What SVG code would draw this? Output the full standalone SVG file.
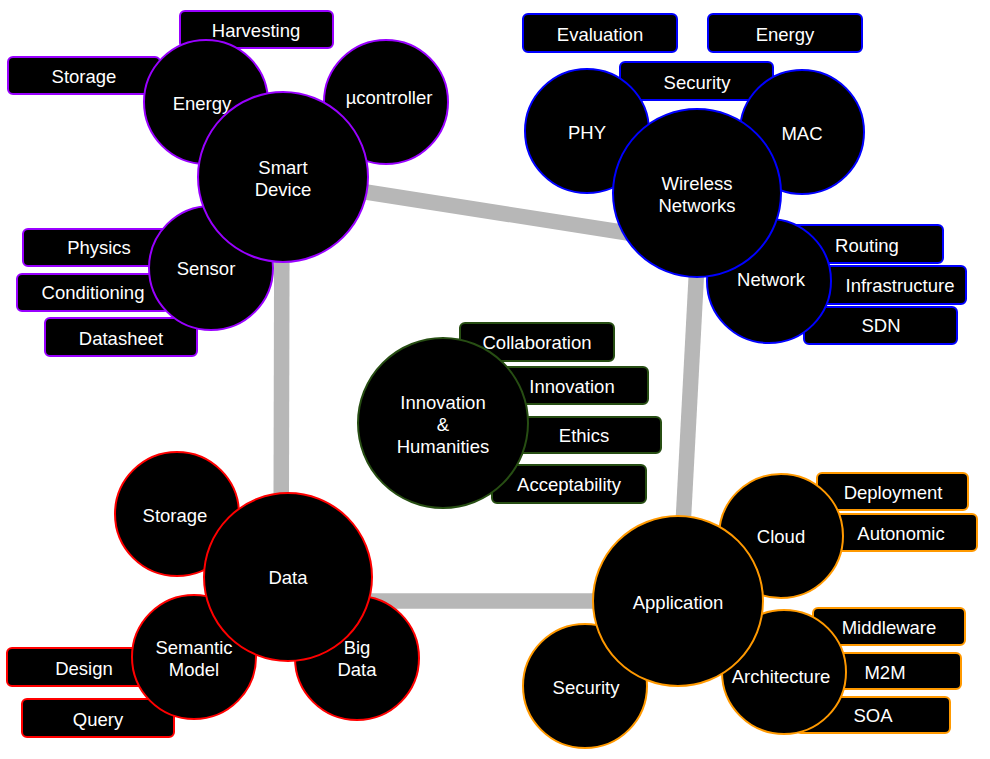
<svg xmlns="http://www.w3.org/2000/svg" width="990" height="759" viewBox="0 0 990 759">
<style>
text{font-family:"Liberation Sans",Arial,Helvetica,sans-serif;font-size:18.5px;fill:#fff;text-anchor:middle}
rect,circle{fill:#000;stroke-width:2}
.p{stroke:#9900ff}.b{stroke:#0000ff}.g{stroke:#274e13}.r{stroke:#ff0000}.o{stroke:#ff9900}
.conn line{stroke:#b7b7b7;stroke-width:15.5;fill:none}
</style>
<rect x="0" y="0" width="990" height="759" style="fill:#fff;stroke:none"/>
<g id="connectors" class="conn">
<line x1="283" y1="179" x2="698" y2="244"/>
<line x1="698" y1="244" x2="679" y2="601"/>
<line x1="679" y1="601" x2="281" y2="601"/>
<line x1="281" y1="601" x2="282" y2="179"/>
</g>
<!-- Smart Device cluster -->
<g id="harvesting"><rect class="p" x="180" y="11" width="153" height="37" rx="5"/><text x="256" y="37">Harvesting</text></g>
<g id="storage-box"><rect class="p" x="8" y="57" width="152" height="37" rx="5"/><text x="84" y="83">Storage</text></g>
<g id="physics"><rect class="p" x="23" y="229" width="152" height="37" rx="5"/><text x="99" y="254">Physics</text></g>
<g id="conditioning"><rect class="p" x="17" y="274" width="152" height="37" rx="5"/><text x="93" y="299">Conditioning</text></g>
<g id="datasheet"><rect class="p" x="45" y="318" width="152" height="38" rx="5"/><text x="121" y="345">Datasheet</text></g>
<g id="energy"><circle class="p" cx="206" cy="102" r="62"/><text x="202" y="110">Energy</text></g>
<g id="ucontroller"><circle class="p" cx="386" cy="102" r="62"/><text x="389" y="104">µcontroller</text></g>
<g id="sensor"><circle class="p" cx="211" cy="268" r="62"/><text x="206" y="275">Sensor</text></g>
<g id="smart-device"><circle class="p" cx="283" cy="177" r="85"/><text x="283" y="174">Smart</text><text x="283" y="196">Device</text></g>
<!-- Wireless cluster -->
<g id="evaluation"><rect class="b" x="523" y="14" width="154" height="38" rx="5"/><text x="600" y="41">Evaluation</text></g>
<g id="energy-box"><rect class="b" x="708" y="14" width="154" height="38" rx="5"/><text x="785" y="41">Energy</text></g>
<g id="security-box"><rect class="b" x="620" y="62" width="153" height="38" rx="5"/><text x="697" y="89">Security</text></g>
<g id="routing"><rect class="b" x="791" y="225" width="152" height="38" rx="5"/><text x="867" y="252">Routing</text></g>
<g id="infrastructure"><rect class="b" x="814" y="266" width="152" height="38" rx="5"/><text x="900" y="292">Infrastructure</text></g>
<g id="sdn"><rect class="b" x="804" y="307" width="153" height="37" rx="5"/><text x="881" y="332">SDN</text></g>
<g id="phy"><circle class="b" cx="587" cy="131" r="62"/><text x="587" y="139">PHY</text></g>
<g id="mac"><circle class="b" cx="802" cy="132" r="62"/><text x="802" y="140">MAC</text></g>
<g id="network"><circle class="b" cx="769" cy="281" r="62"/><text x="771" y="285.5">Network</text></g>
<g id="wireless"><circle class="b" cx="697" cy="193" r="84"/><text x="697" y="190">Wireless</text><text x="697" y="212">Networks</text></g>
<!-- Innovation cluster -->
<g id="collaboration"><rect class="g" x="460" y="323" width="154" height="38" rx="5"/><text x="537" y="349">Collaboration</text></g>
<g id="innovation-box"><rect class="g" x="496" y="367" width="152" height="37" rx="5"/><text x="572" y="393">Innovation</text></g>
<g id="ethics"><rect class="g" x="507" y="417" width="154" height="36" rx="5"/><text x="584" y="442">Ethics</text></g>
<g id="acceptability"><rect class="g" x="492" y="465" width="154" height="38" rx="5"/><text x="569" y="491">Acceptability</text></g>
<g id="innovation-humanities"><circle class="g" cx="443" cy="423" r="85"/><text x="443" y="409">Innovation</text><text x="443" y="431">&amp;</text><text x="443" y="453">Humanities</text></g>
<!-- Data cluster -->
<g id="design"><rect class="r" x="7" y="648" width="154" height="38" rx="5"/><text x="84" y="675">Design</text></g>
<g id="query"><rect class="r" x="22" y="699" width="152" height="38" rx="5"/><text x="98" y="725.5">Query</text></g>
<g id="storage"><circle class="r" cx="177" cy="514" r="62"/><text x="175" y="521.5">Storage</text></g>
<g id="semantic-model"><circle class="r" cx="194" cy="657" r="62"/><text x="194" y="654">Semantic</text><text x="194" y="676">Model</text></g>
<g id="big-data"><circle class="r" cx="357" cy="658" r="62"/><text x="357" y="654">Big</text><text x="357" y="676">Data</text></g>
<g id="data"><circle class="r" cx="288" cy="577" r="84"/><text x="288" y="584">Data</text></g>
<!-- Application cluster -->
<g id="deployment"><rect class="o" x="817" y="473" width="151" height="37" rx="5"/><text x="893" y="499">Deployment</text></g>
<g id="autonomic"><rect class="o" x="825" y="514" width="152" height="37" rx="5"/><text x="901" y="540">Autonomic</text></g>
<g id="middleware"><rect class="o" x="813" y="608" width="152" height="37" rx="5"/><text x="889" y="634">Middleware</text></g>
<g id="m2m"><rect class="o" x="809" y="653" width="152" height="36" rx="5"/><text x="885" y="678.5">M2M</text></g>
<g id="soa"><rect class="o" x="796" y="697" width="154" height="36" rx="5"/><text x="873" y="722">SOA</text></g>
<g id="cloud"><circle class="o" cx="781" cy="536" r="62"/><text x="781" y="543">Cloud</text></g>
<g id="architecture"><circle class="o" cx="784" cy="672" r="62"/><text x="781" y="683">Architecture</text></g>
<g id="security"><circle class="o" cx="585" cy="686" r="62"/><text x="586" y="694">Security</text></g>
<g id="application"><circle class="o" cx="678" cy="601" r="85"/><text x="678" y="609">Application</text></g>
</svg>
